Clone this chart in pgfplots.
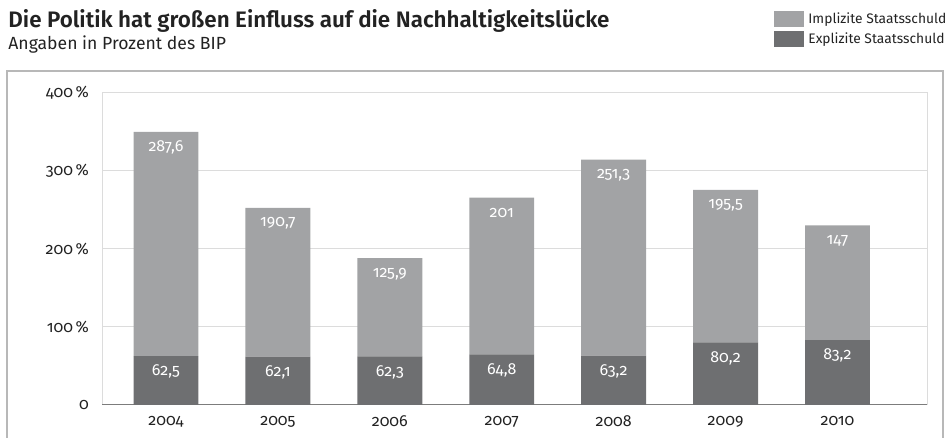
\documentclass[border=0pt]{standalone}
\usepackage{fontspec}
\setmainfont{Fira Sans}[Numbers=OldStyle]
\newfontfamily\titlefont{Fira Sans}[UprightFont={* SemiBold}]
\usepackage{pgfplots}
\usepackage{pgfplotstable}
\pgfplotsset{compat=1.18}

\definecolor{impl}{HTML}{A2A3A5}
\definecolor{expl}{HTML}{6E6F71}
\definecolor{framec}{HTML}{B8B8B8}
\definecolor{gridc}{HTML}{DCDCDC}
\definecolor{axisc}{HTML}{7C7C7C}
\definecolor{txt}{HTML}{222222}

\newcommand\fs[1]{\fontsize{#1}{#1}\selectfont}

% Explizite (e) und implizite (i) Staatsschuld, Prozent des BIP
\pgfplotstableread{
x e i
0 62.5 287.6
1 62.1 190.7
2 62.3 125.9
3 64.8 201
4 63.2 251.3
5 80.2 195.5
6 83.2 147
}\data

\begin{document}
\begin{tikzpicture}[x=0.5pt,y=-0.5pt]
\useasboundingbox (0,0) rectangle (949,438);

% outer frame (open at the bottom)
\draw[framec, line width=1pt] (7,470) -- (7,71) -- (943,71) -- (943,470);

% title and subtitle
\node[anchor=base west, inner sep=0, text=txt, font=\fs{11.2}\titlefont] at (8,28)
  {Die Politik hat großen Einfluss auf die Nachhaltigkeitslücke};
\node[anchor=base west, inner sep=0, text=txt, font=\fs{8.8}] at (8,50)
  {Angaben in Prozent des BIP};

% legend
\fill[impl] (774,11) rectangle (804,27);
\fill[expl] (774,31) rectangle (804,47);
\node[anchor=base west, inner sep=0, text=txt, font=\fs{6.9}] at (808,24) {Implizite Staatsschuld};
\node[anchor=base west, inner sep=0, text=txt, font=\fs{6.9}] at (808,44) {Explizite Staatsschuld};

\begin{axis}[
    at={(51pt,-202.5pt)}, anchor=south west,
    scale only axis, width=412.5pt, height=156pt,
    xmin=-0.572, xmax=6.8, ymin=0, ymax=400,
    ybar stacked, bar width=0.58,
    xtick={0,1,2,3,4,5,6},
    xticklabels={2004,2005,2006,2007,2008,2009,2010},
    ytick={0,100,200,300,400},
    yticklabels={0,100\,\%,200\,\%,300\,\%,400\,\%},
    major tick length=0,
    ymajorgrids, grid style={gridc, line width=0.5pt},
    axis line style={gridc, line width=0.5pt},
    tick label style={font=\fs{8}, text=txt},
    yticklabel style={xshift=-3pt},
    xticklabel style={yshift=-2pt},
    point meta=explicit,
    /pgf/number format/assume math mode=true,
    nodes near coords={\pgfmathprintnumber[use comma,fixed,precision=1]{\pgfplotspointmeta}},
    % stacked labels sit mid-segment: move them up to just below the segment top
    visualization depends on={rawy \as \seg},
    nodes near coords style={font=\fs{8}, text=white, anchor=center,
        yshift={0.195pt*\seg-7.8pt}},
]
\addplot[fill=expl, draw=none] table[x=x, y=e, meta=e] {\data};
\addplot[fill=impl, draw=none] table[x=x, y=i, meta=i] {\data};
\draw[axisc, line width=1pt] (rel axis cs:0,0) -- (rel axis cs:1,0);
\end{axis}
\end{tikzpicture}
\end{document}
